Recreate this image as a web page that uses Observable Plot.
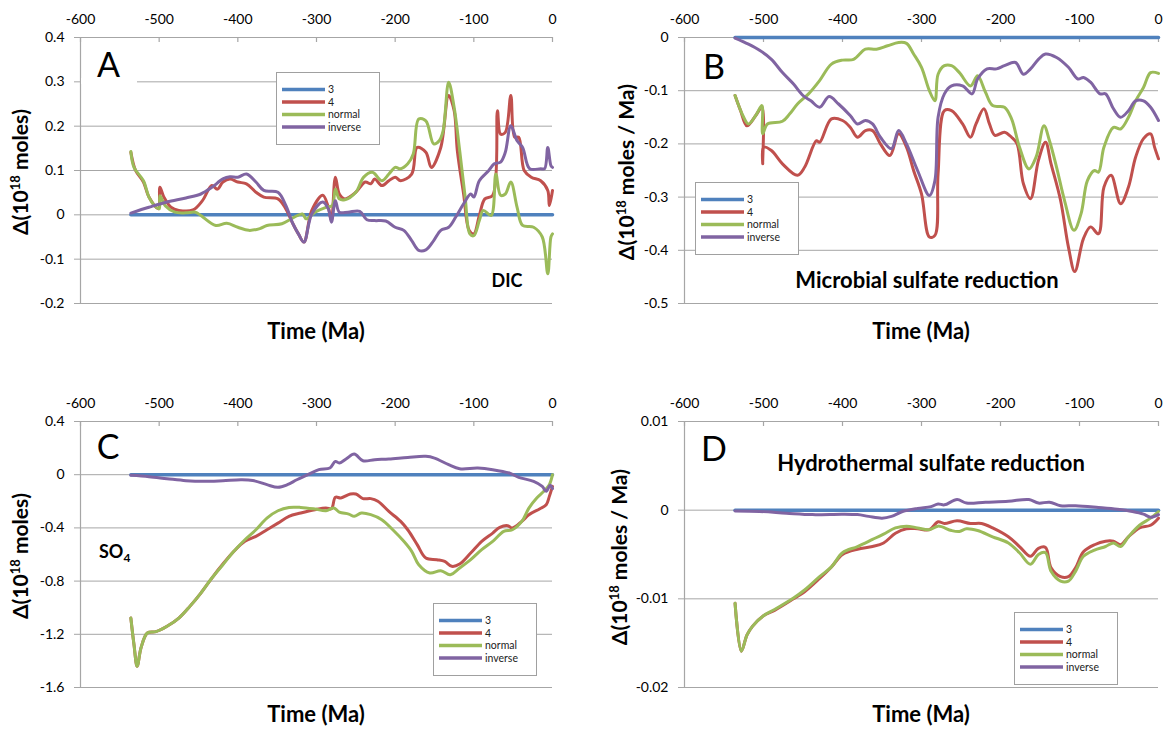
<!DOCTYPE html>
<html><head><meta charset="utf-8">
<script src="https://cdn.jsdelivr.net/npm/d3@7"></script>
<script src="https://cdn.jsdelivr.net/npm/@observablehq/plot@0.6"></script>
<style>
body{margin:0;background:#fff;}
#root{position:relative;width:1167px;height:732px;overflow:hidden;background:#fff;font-family:Lato,"Open Sans",sans-serif;}
.panel{position:absolute;}
.panel svg{overflow:visible;}
#overlay{position:absolute;left:0;top:0;pointer-events:none;}
</style>
</head><body>
<div id="root"></div>
<script>
// ---------- data ----------
const seriesNames = ["3", "4", "normal", "inverse"];
const seriesColors = ["#4F81BD", "#C0504D", "#9BBB59", "#8064A2"];
const timeTicks = [-600, -500, -400, -300, -200, -100, 0];
const yTicksA = [0.4, 0.3, 0.2, 0.1, 0, -0.1, -0.2];
const yTicksB = [0, -0.1, -0.2, -0.3, -0.4, -0.5];
const yTicksC = [0.4, 0, -0.4, -0.8, -1.2, -1.6];
const yTicksD = [0.01, 0, -0.01, -0.02];

// Panel A: DIC (10^18 moles)
const A_3 = [[-536, 0], [0, 0]];
const A_4 = [[-536,0.141],[-530,0.1],[-520,0.074],[-513,0.04],[-501,0.0135],[-499,0.062],[-494,0.04],[-485,0.017],[-475,0.01],[-457,0.011],[-445,0.032],[-433,0.066],[-426,0.058],[-419,0.074],[-410,0.081],[-400,0.074],[-389,0.07],[-377,0.051],[-367,0.04],[-349,0.036],[-339,0.0135],[-330,-0.02],[-323,-0.043],[-316,-0.0615],[-306,0.01],[-292,0.044],[-285,0.017],[-281,-0.013],[-276,0.085],[-271,0.047],[-264,0.036],[-250,0.051],[-238,0.074],[-231,0.07],[-226,0.081],[-217,0.066],[-208,0.077],[-200,0.085],[-193,0.077],[-179,0.092],[-172,0.152],[-161,0.141],[-154,0.107],[-142,0.152],[-132,0.269],[-125,0.235],[-121,0.145],[-113,0.047],[-106,-0.035],[-100,-0.043],[-93,-0.0015],[-86,0.036],[-76,0.044],[-70,0.235],[-66,0.182],[-60,0.186],[-53,0.269],[-48,0.175],[-43,0.175],[-36,0.1],[-27,0.085],[-15,0.077],[-6,0.055],[-4,0.021],[0,0.055]];
const A_normal = [[-536,0.143],[-532,0.107],[-520,0.077],[-513,0.04],[-506,0.021],[-500,0.0135],[-499,0.043],[-492,0.02],[-480,0.006],[-466,0.0045],[-454,0.006],[-447,-0.0015],[-428,-0.024],[-414,-0.019],[-400,-0.028],[-386,-0.035],[-372,-0.031],[-363,-0.024],[-344,-0.02],[-330,-0.007],[-318,0.002],[-313,-0.009],[-302,0.006],[-288,0.017],[-280,0.021],[-276,0.058],[-271,0.036],[-264,0.034],[-250,0.051],[-240,0.085],[-229,0.096],[-217,0.077],[-208,0.092],[-200,0.107],[-193,0.104],[-184,0.115],[-177,0.137],[-170,0.216],[-161,0.212],[-151,0.16],[-144,0.167],[-139,0.19],[-132,0.299],[-125,0.242],[-118,0.145],[-111,0.04],[-105,-0.043],[-100,-0.047],[-93,-0.013],[-88,0.01],[-78,-0.0015],[-72,0.092],[-66,0.044],[-60,0.047],[-53,0.074],[-45,0.017],[-38,-0.024],[-24,-0.028],[-13,-0.05],[-6,-0.133],[-2,-0.05],[0,-0.043]];
const A_inverse = [[-536,0.004],[-513,0.017],[-490,0.029],[-466,0.038],[-447,0.047],[-433,0.062],[-419,0.081],[-410,0.086],[-400,0.085],[-389,0.092],[-377,0.074],[-367,0.055],[-349,0.051],[-339,0.021],[-330,-0.02],[-323,-0.043],[-316,-0.0615],[-306,0.002],[-292,0.029],[-285,0.0135],[-281,-0.0165],[-276,0.032],[-271,0.006],[-260,0.006],[-245,0.008],[-236,-0.011],[-226,-0.013],[-212,-0.014],[-200,-0.028],[-189,-0.035],[-179,-0.058],[-170,-0.08],[-161,-0.079],[-151,-0.058],[-142,-0.035],[-132,-0.028],[-123,-0.005],[-113,0.025],[-104,0.047],[-100,0.04],[-93,0.077],[-81,0.1],[-74,0.115],[-66,0.119],[-60,0.141],[-53,0.201],[-45,0.167],[-38,0.152],[-29,0.104],[-15,0.104],[-10,0.104],[-6,0.152],[-2,0.111],[0,0.107]];

// Panel B: microbial sulfate reduction (10^18 moles / Ma)
const B_3 = [[-536, 0], [0, 0]];
const B_4 = [[-536,-0.109],[-529,-0.1375],[-521,-0.166],[-510,-0.147],[-502,-0.131],[-501,-0.2375],[-500,-0.206],[-490,-0.2125],[-476,-0.2375],[-457,-0.259],[-448,-0.244],[-433,-0.194],[-429,-0.197],[-414,-0.153],[-400,-0.156],[-390,-0.169],[-381,-0.1875],[-371,-0.175],[-362,-0.175],[-352,-0.2],[-340,-0.222],[-329,-0.181],[-319,-0.206],[-310,-0.25],[-300,-0.294],[-290,-0.375],[-283,-0.372],[-279,-0.256],[-271,-0.1375],[-262,-0.1375],[-248,-0.1625],[-238,-0.1875],[-231,-0.1625],[-221,-0.134],[-214,-0.1625],[-207,-0.184],[-195,-0.178],[-186,-0.1875],[-179,-0.2],[-171,-0.275],[-162,-0.303],[-152,-0.231],[-143,-0.197],[-136,-0.2375],[-124,-0.306],[-114,-0.394],[-106,-0.44],[-95,-0.378],[-86,-0.356],[-76,-0.369],[-69,-0.281],[-60,-0.259],[-48,-0.3125],[-38,-0.281],[-29,-0.225],[-19,-0.19],[-10,-0.181],[-5,-0.206],[0,-0.228]];
const B_normal = [[-536,-0.109],[-526,-0.147],[-519,-0.1625],[-510,-0.147],[-502,-0.128],[-501,-0.181],[-495,-0.1625],[-476,-0.1575],[-467,-0.144],[-457,-0.125],[-443,-0.106],[-429,-0.081],[-414,-0.05],[-400,-0.0425],[-386,-0.041],[-371,-0.022],[-357,-0.022],[-343,-0.0156],[-329,-0.0094],[-319,-0.011],[-310,-0.031],[-300,-0.056],[-290,-0.1],[-283,-0.119],[-279,-0.069],[-271,-0.053],[-262,-0.053],[-252,-0.066],[-238,-0.091],[-229,-0.072],[-219,-0.103],[-210,-0.128],[-195,-0.131],[-186,-0.153],[-176,-0.206],[-164,-0.247],[-155,-0.225],[-145,-0.166],[-138,-0.194],[-129,-0.244],[-119,-0.306],[-107,-0.3625],[-98,-0.331],[-90,-0.269],[-81,-0.25],[-76,-0.253],[-69,-0.206],[-57,-0.169],[-48,-0.172],[-38,-0.15],[-29,-0.119],[-19,-0.094],[-10,-0.066],[0,-0.0675]];
const B_inverse = [[-536,-0.001],[-519,-0.0125],[-505,-0.024],[-490,-0.041],[-476,-0.066],[-462,-0.0875],[-450,-0.109],[-440,-0.119],[-429,-0.131],[-417,-0.111],[-405,-0.125],[-390,-0.147],[-381,-0.1625],[-371,-0.156],[-362,-0.1625],[-352,-0.1875],[-338,-0.209],[-329,-0.175],[-319,-0.2],[-305,-0.25],[-290,-0.297],[-283,-0.269],[-279,-0.15],[-271,-0.106],[-262,-0.091],[-248,-0.091],[-236,-0.106],[-229,-0.078],[-217,-0.059],[-205,-0.059],[-195,-0.053],[-181,-0.047],[-171,-0.069],[-162,-0.059],[-152,-0.041],[-143,-0.031],[-129,-0.0375],[-114,-0.056],[-102,-0.078],[-95,-0.075],[-86,-0.084],[-74,-0.106],[-67,-0.106],[-57,-0.134],[-48,-0.15],[-38,-0.1375],[-29,-0.119],[-19,-0.119],[-10,-0.131],[0,-0.156]];

// Panel C: SO4 (10^18 moles)
const C_3 = [[-536, 0], [0, 0]];
const C_4 = [[-536,-1.078],[-532,-1.278],[-528,-1.44],[-523,-1.3],[-515,-1.19],[-504,-1.18],[-490,-1.14],[-475,-1.078],[-461,-0.99],[-447,-0.89],[-433,-0.777],[-419,-0.672],[-405,-0.576],[-391,-0.501],[-377,-0.464],[-363,-0.414],[-349,-0.364],[-335,-0.313],[-320,-0.288],[-302,-0.263],[-288,-0.25],[-281,-0.256],[-276,-0.17],[-269,-0.175],[-257,-0.145],[-250,-0.145],[-241,-0.18],[-231,-0.18],[-222,-0.2],[-208,-0.276],[-193,-0.351],[-184,-0.414],[-172,-0.526],[-161,-0.627],[-147,-0.639],[-137,-0.652],[-128,-0.689],[-118,-0.672],[-104,-0.589],[-90,-0.501],[-76,-0.439],[-67,-0.396],[-57,-0.383],[-51,-0.401],[-39,-0.351],[-30,-0.301],[-16,-0.256],[-8,-0.226],[-4,-0.163],[0,-0.088]];
const C_normal = [[-536,-1.078],[-532,-1.278],[-528,-1.44],[-523,-1.3],[-515,-1.19],[-504,-1.18],[-490,-1.14],[-475,-1.078],[-461,-0.99],[-447,-0.89],[-433,-0.777],[-419,-0.677],[-405,-0.576],[-391,-0.489],[-377,-0.414],[-363,-0.326],[-349,-0.271],[-335,-0.246],[-320,-0.246],[-302,-0.258],[-288,-0.271],[-278,-0.25],[-271,-0.281],[-259,-0.296],[-252,-0.313],[-243,-0.288],[-231,-0.3],[-217,-0.338],[-203,-0.414],[-189,-0.501],[-179,-0.576],[-170,-0.677],[-156,-0.739],[-142,-0.722],[-130,-0.752],[-118,-0.702],[-104,-0.639],[-90,-0.564],[-76,-0.501],[-62,-0.426],[-51,-0.414],[-39,-0.351],[-30,-0.251],[-20,-0.175],[-11,-0.125],[-4,-0.075],[0,0]];
const C_inverse = [[-536,-0.005],[-513,-0.015],[-490,-0.03],[-466,-0.045],[-443,-0.05],[-419,-0.045],[-396,-0.038],[-381,-0.043],[-363,-0.075],[-349,-0.095],[-337,-0.075],[-325,-0.038],[-311,0],[-297,0.038],[-283,0.05],[-276,0.1],[-271,0.088],[-262,0.12],[-252,0.155],[-241,0.105],[-226,0.113],[-208,0.118],[-184,0.13],[-161,0.138],[-150,0.125],[-132,0.075],[-118,0.045],[-95,0.05],[-76,0.038],[-55,0.0125],[-43,-0.02],[-24,-0.05],[-13,-0.088],[-8,-0.125],[-3,-0.08],[0,-0.105]];

// Panel D: hydrothermal sulfate reduction (10^18 moles / Ma)
const D_3 = [[-536, 0], [0, 0]];
const D_4 = [[-536,-0.0105],[-528,-0.0159],[-521,-0.0141],[-514,-0.0131],[-500,-0.0119],[-486,-0.0113],[-462,-0.01],[-448,-0.0092],[-429,-0.0077],[-414,-0.0064],[-400,-0.005],[-381,-0.0044],[-362,-0.0041],[-348,-0.0037],[-333,-0.0026],[-319,-0.0021],[-305,-0.0021],[-290,-0.0022],[-279,-0.0013],[-271,-0.0015],[-255,-0.0012],[-238,-0.0015],[-224,-0.0015],[-210,-0.002],[-190,-0.003],[-176,-0.0041],[-162,-0.0052],[-152,-0.0043],[-143,-0.0042],[-136,-0.0065],[-124,-0.0075],[-114,-0.0075],[-105,-0.0065],[-95,-0.0047],[-81,-0.0039],[-67,-0.0035],[-57,-0.0035],[-48,-0.0039],[-38,-0.003],[-24,-0.002],[-10,-0.0017],[0,-0.0009]];
const D_normal = [[-536,-0.0105],[-528,-0.0159],[-521,-0.0141],[-514,-0.0131],[-500,-0.0119],[-486,-0.0112],[-462,-0.0099],[-448,-0.009],[-429,-0.0075],[-414,-0.0064],[-400,-0.0048],[-381,-0.0041],[-362,-0.0033],[-348,-0.0027],[-333,-0.002],[-319,-0.0018],[-305,-0.002],[-290,-0.0022],[-279,-0.0018],[-262,-0.0023],[-252,-0.0024],[-243,-0.0021],[-229,-0.0023],[-210,-0.003],[-190,-0.0037],[-176,-0.0048],[-162,-0.0061],[-152,-0.005],[-143,-0.0048],[-136,-0.0069],[-124,-0.008],[-114,-0.008],[-105,-0.0069],[-95,-0.0052],[-81,-0.0045],[-67,-0.0041],[-57,-0.0037],[-48,-0.0041],[-38,-0.003],[-24,-0.0017],[-10,-0.0009],[0,-0.00015]];
const D_inverse = [[-536,-0.0001],[-505,-0.00015],[-471,-0.00034],[-438,-0.0005],[-400,-0.00045],[-381,-0.0005],[-367,-0.0007],[-350,-0.0009],[-338,-0.0007],[-324,-0.00015],[-305,0.0002],[-288,0.0004],[-279,0.0007],[-271,0.0006],[-255,0.0012],[-243,0.0008],[-219,0.0009],[-190,0.001],[-164,0.0012],[-152,0.0008],[-138,0.0009],[-124,0.0005],[-105,0.0005],[-76,0.0003],[-52,0.0001],[-33,-0.00015],[-19,-0.00045],[-10,-0.0008],[0,-0.0005]];

// ---------- drawing ----------
const GRID = "#a6a6a6";
const fmt = d => String(Math.round(d * 10000) / 10000);
const root = document.getElementById("root");

function panel({left, top, width, height, mt, mr, mb, ml, yDomain, yTicks, series}) {
  const innerH = height - mt - mb;
  const lines = series.map((s, i) => Plot.line(s, {
    x: d => d[0], y: d => d[1], stroke: seriesColors[i],
    strokeWidth: i === 0 ? 3.5 : 3, curve: "catmull-rom", strokeLinejoin: "round"
  }));
  const chart = Plot.plot({
    width, height, marginTop: mt, marginRight: mr, marginBottom: mb, marginLeft: ml,
    style: {fontFamily: "Lato, 'Open Sans', sans-serif", fontSize: "14px", background: "transparent", overflow: "visible", color: "#000"},
    x: {domain: [-600, 0]},
    y: {domain: yDomain},
    marks: [
      Plot.gridY(yTicks, {stroke: GRID, strokeOpacity: 1, strokeWidth: 1}),
      Plot.ruleX([-600], {stroke: GRID, strokeWidth: 1.2}),
      Plot.tickX(timeTicks, {x: d => d, stroke: GRID, strokeWidth: 1.2, insetBottom: innerH - 5}),
      Plot.axisX({anchor: "top", ticks: timeTicks, tickSize: 0, tickPadding: 14, tickFormat: fmt, label: null, fill: "#000"}),
      Plot.axisY({ticks: yTicks, tickSize: 6, tickPadding: 10, tickFormat: fmt, label: null, stroke: GRID, fill: "#000"}),
      ...lines
    ]
  });
  const div = document.createElement("div");
  div.className = "panel";
  div.style.left = left + "px";
  div.style.top = top + "px";
  div.appendChild(chart);
  root.appendChild(div);
}

panel({left: 0, top: 0, width: 584, height: 366, mt: 37, mr: 32, mb: 63, ml: 80,
  yDomain: [-0.2, 0.4], yTicks: yTicksA, series: [A_3, A_4, A_normal, A_inverse]});
panel({left: 584, top: 0, width: 583, height: 366, mt: 37, mr: 9, mb: 63, ml: 100,
  yDomain: [-0.5, 0], yTicks: yTicksB, series: [B_3, B_4, B_normal, B_inverse]});
panel({left: 0, top: 366, width: 584, height: 366, mt: 55, mr: 32, mb: 45, ml: 80,
  yDomain: [-1.6, 0.4], yTicks: yTicksC, series: [C_3, C_4, C_normal, C_inverse]});
panel({left: 584, top: 366, width: 583, height: 366, mt: 55, mr: 9, mb: 45, ml: 100,
  yDomain: [-0.02, 0.01], yTicks: yTicksD, series: [D_3, D_4, D_normal, D_inverse]});

// ---------- annotations, legends ----------
const svg = d3.select(root).append("svg").attr("id", "overlay")
  .attr("width", 1167).attr("height", 732)
  .style("font-family", "Lato, 'Open Sans', sans-serif");

function legend(x, y) {
  const g = svg.append("g").attr("transform", `translate(${x},${y})`);
  g.append("rect").attr("x", 0.5).attr("y", 0.5).attr("width", 103).attr("height", 72)
    .attr("fill", "#fff").attr("stroke", "#a0a0a0");
  seriesNames.forEach((n, i) => {
    const ry = 17.5 + i * 12.5;
    g.append("line").attr("x1", 6).attr("x2", 49).attr("y1", ry).attr("y2", ry)
      .attr("stroke", seriesColors[i]).attr("stroke-width", 3.5);
    g.append("text").attr("x", 52).attr("y", ry).attr("dy", "0.35em")
      .attr("font-size", 10.5).attr("fill", "#222").text(n);
  });
}
legend(276, 72);
legend(695, 182);
legend(433, 603);
legend(1014, 612);

// white background of the "A" label box over the 0.3 gridline
svg.append("rect").attr("x", 81).attr("y", 78).attr("width", 56).attr("height", 6).attr("fill", "#fff");

function txt(x, y, s, size, weight, anchor = "middle") {
  return svg.append("text").attr("x", x).attr("y", y).attr("font-size", size)
    .attr("font-weight", weight).attr("text-anchor", anchor).attr("fill", "#000").text(s);
}
txt(108.5, 77, "A", 34, 400);
txt(714, 79, "B", 34, 400);
txt(108, 459, "C", 34, 400);
txt(714, 461, "D", 34, 400);
txt(507, 287, "DIC", 18, 700);
txt(927, 288, "Microbial sulfate reduction", 22, 700);
txt(931, 471, "Hydrothermal sulfate reduction", 22, 700);
const so = txt(99, 558, "SO", 18, 700, "start");
so.append("tspan").attr("font-size", 12).attr("dy", 4).text("4");

txt(316, 339, "Time (Ma)", 22, 700);
txt(921, 339, "Time (Ma)", 22, 700);
txt(316, 722, "Time (Ma)", 22, 700);
txt(921, 722, "Time (Ma)", 22, 700);

function ylab(x, y, unit) {
  const t = svg.append("text").attr("transform", `translate(${x},${y}) rotate(-90)`)
    .attr("text-anchor", "middle").attr("font-size", 21).attr("font-weight", 700).attr("fill", "#000");
  t.append("tspan").text("Δ(10");
  t.append("tspan").attr("font-size", 13).attr("dy", -8).text("18");
  t.append("tspan").attr("dy", 8).text(" " + unit + ")");
}
ylab(28, 172, "moles");
ylab(634, 172, "moles / Ma");
ylab(28, 556, "moles");
ylab(627, 557, "moles / Ma");
</script>
</body></html>
